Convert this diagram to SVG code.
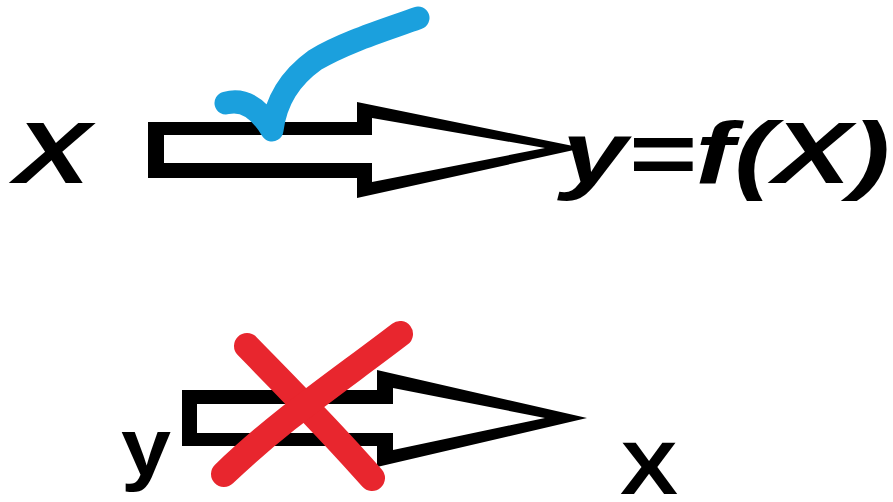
<svg xmlns="http://www.w3.org/2000/svg" width="893" height="502" viewBox="0 0 893 502">
<style>
.bg{fill:#ffffff}
.t{font-family:"Liberation Sans",Arial,sans-serif;font-weight:bold;fill:#000000}
.it{font-style:italic}
.outer{fill:#000000}
.inner{fill:#ffffff}
.check{fill:none;stroke:#1ba0dd;stroke-width:23;stroke-linecap:round;stroke-linejoin:round}
.cross{fill:none;stroke:#e8262e;stroke-width:26;stroke-linecap:round;stroke-linejoin:round}
</style>
<rect class="bg" x="0" y="0" width="893" height="502"/>
<g id="node-x-top">
<text class="t it" x="14" y="183" font-size="88" textLength="76" lengthAdjust="spacingAndGlyphs">X</text>
</g>
<g id="node-y-fx">
<text class="t it" x="562" y="183" font-size="88" textLength="328" lengthAdjust="spacingAndGlyphs">y=f(X)</text>
</g>
<g id="node-y-bottom">
<text class="t" x="121" y="475" font-size="82" textLength="50" lengthAdjust="spacingAndGlyphs">y</text>
</g>
<g id="node-x-bottom">
<text class="t" x="620" y="494" font-size="74" textLength="58" lengthAdjust="spacingAndGlyphs">X</text>
</g>
<g id="connectors">
<g id="arrow-top">
<polygon class="outer" points="148,122 357,122 357,102 583,148 357,198 357,178 148,178"/>
<polygon class="inner" points="164,135 372,135 372,118 545,148 372,182 372,163 164,163"/>
</g>
<g id="arrow-bottom">
<polygon class="outer" points="182,390 377,390 377,370 587,418 377,467 377,446 182,446"/>
<polygon class="inner" points="197,404 393,404 393,388 545,418 393,450 393,433 197,433"/>
</g>
</g>
<g id="mark-check">
<path class="check" d="M226,103 C245,98 260,110 272,130 C276,100 290,78 315,60 C345,42 385,30 418,18"/>
</g>
<g id="mark-cross">
<path class="cross" d="M247,346 C290,390 330,430 372,478"/>
<path class="cross" d="M400,334 C340,380 280,420 224,474"/>
</g>
</svg>
